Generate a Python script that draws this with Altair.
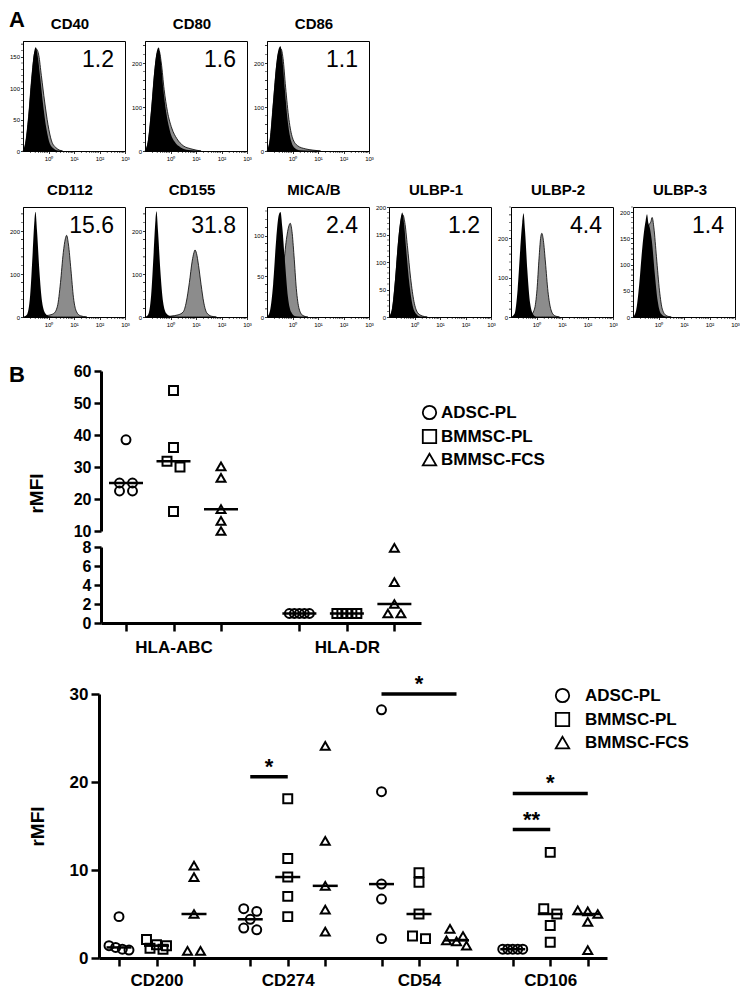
import altair as alt
import pandas as pd

FONT = "Liberation Sans"

# ---------------- Panel A data (flow cytometry histograms) ----------------
ROW1 = ["CD40", "CD80", "CD86"]
ROW2 = ["CD112", "CD155", "MICA/B", "ULBP-1", "ULBP-2", "ULBP-3"]
RMFI_TEXT = {"CD40": "1.2", "CD80": "1.6", "CD86": "1.1", "CD112": "15.6", "CD155": "31.8",
             "MICA/B": "2.4", "ULBP-1": "1.2", "ULBP-2": "4.4", "ULBP-3": "1.4"}
Y_MAX = {"CD40": 175, "CD80": 250, "CD86": 250, "CD112": 256, "CD155": 256,
         "MICA/B": 135, "ULBP-1": 200, "ULBP-2": 280, "ULBP-3": 210}
Y_TICKS = {"CD40": [0, 50, 100, 150], "CD80": [0, 100, 200], "CD86": [0, 100, 200],
           "CD112": [0, 100, 200], "CD155": [0, 100, 200], "MICA/B": [0, 50, 100],
           "ULBP-1": [0, 50, 100, 150, 200], "ULBP-2": [0, 100, 200],
           "ULBP-3": [0, 50, 100, 150, 200]}
X_TICKS = [1, 10, 100, 1000]

# isotype control (black) curves: log10 fluorescence, counts
ISO = {
    "CD40": ([-1.0, -0.9, -0.78, -0.66, -0.55, -0.5, -0.42, -0.32, -0.2, -0.08, 0.05, 0.2, 0.4],
             [0, 15, 60, 120, 160, 165, 150, 115, 70, 35, 12, 4, 0]),
    "CD80": ([-1.0, -0.88, -0.75, -0.62, -0.52, -0.46, -0.38, -0.28, -0.16, -0.02, 0.15, 0.4, 0.7, 1.0],
             [0, 25, 100, 190, 230, 235, 205, 140, 85, 45, 22, 8, 2, 0]),
    "CD86": ([-1.0, -0.88, -0.75, -0.62, -0.52, -0.47, -0.4, -0.3, -0.18, -0.05, 0.1, 0.3, 0.6],
             [0, 30, 120, 205, 235, 238, 210, 140, 65, 22, 6, 1, 0]),
    "CD112": ([-1.0, -0.85, -0.72, -0.62, -0.55, -0.51, -0.45, -0.36, -0.25, -0.12, 0.0, 0.2],
              [0, 5, 50, 150, 225, 245, 200, 110, 35, 8, 2, 0]),
    "CD155": ([-1.0, -0.88, -0.76, -0.66, -0.59, -0.55, -0.49, -0.4, -0.29, -0.16, -0.02, 0.2],
              [0, 5, 50, 150, 225, 246, 200, 110, 35, 8, 2, 0]),
    "MICA/B": ([-1.0, -0.88, -0.76, -0.64, -0.54, -0.47, -0.4, -0.3, -0.18, -0.05, 0.1, 0.3],
               [0, 8, 40, 95, 125, 129, 110, 70, 25, 6, 1, 0]),
    "ULBP-1": ([-1.0, -0.88, -0.76, -0.64, -0.54, -0.48, -0.41, -0.32, -0.2, -0.07, 0.08, 0.25],
               [0, 15, 70, 140, 180, 190, 170, 120, 60, 20, 5, 0]),
    "ULBP-2": ([-1.0, -0.86, -0.74, -0.64, -0.56, -0.51, -0.45, -0.36, -0.25, -0.12, 0.0],
               [0, 8, 70, 170, 240, 264, 220, 120, 35, 6, 0]),
    "ULBP-3": ([-1.0, -0.88, -0.76, -0.64, -0.55, -0.5, -0.45, -0.4, -0.34, -0.26, -0.15, -0.03, 0.1, 0.3],
               [0, 12, 60, 130, 170, 185, 196, 180, 170, 145, 85, 30, 6, 0]),
}
# stained (grey) curves
STAIN = {
    "CD40": ([-1.0, -0.9, -0.78, -0.66, -0.55, -0.47, -0.38, -0.28, -0.15, -0.02, 0.12, 0.3, 0.55],
             [0, 12, 55, 115, 155, 162, 152, 120, 78, 42, 16, 5, 0]),
    "CD80": ([-1.0, -0.88, -0.75, -0.62, -0.52, -0.45, -0.36, -0.25, -0.12, 0.05, 0.25, 0.5, 0.8, 1.2],
             [0, 20, 90, 180, 222, 228, 200, 140, 90, 52, 28, 12, 5, 0]),
    "CD86": ([-1.0, -0.88, -0.75, -0.62, -0.52, -0.45, -0.37, -0.27, -0.14, 0.0, 0.2, 0.5, 0.8, 1.1],
             [0, 25, 110, 195, 228, 232, 210, 145, 72, 30, 12, 5, 2, 0]),
    "CD112": ([-0.6, -0.3, 0.0, 0.2, 0.35, 0.47, 0.58, 0.66, 0.71, 0.78, 0.88, 0.98, 1.1, 1.25, 1.5],
              [0, 2, 4, 8, 25, 80, 150, 182, 190, 170, 110, 45, 12, 3, 0]),
    "CD155": ([-0.4, 0.0, 0.3, 0.5, 0.62, 0.74, 0.85, 0.92, 0.96, 1.02, 1.1, 1.2, 1.3, 1.42, 1.6, 1.8],
              [0, 2, 5, 12, 35, 80, 130, 150, 156, 148, 120, 75, 35, 10, 2, 0]),
    "MICA/B": ([-0.9, -0.7, -0.5, -0.36, -0.24, -0.14, -0.09, -0.02, 0.06, 0.15, 0.26, 0.4, 0.6],
               [0, 5, 25, 60, 95, 112, 115, 105, 75, 35, 10, 2, 0]),
    "ULBP-1": ([-1.0, -0.88, -0.76, -0.64, -0.53, -0.46, -0.38, -0.28, -0.15, -0.02, 0.12, 0.3, 0.5],
               [0, 12, 60, 130, 175, 186, 172, 130, 70, 28, 8, 2, 0]),
    "ULBP-2": ([-0.5, -0.25, -0.08, 0.02, 0.1, 0.16, 0.21, 0.27, 0.35, 0.45, 0.57, 0.7, 0.9],
               [0, 3, 20, 70, 150, 200, 213, 195, 140, 65, 18, 4, 0]),
    "ULBP-3": ([-0.95, -0.82, -0.7, -0.58, -0.48, -0.38, -0.3, -0.25, -0.18, -0.08, 0.04, 0.15, 0.3, 0.5],
               [0, 12, 55, 115, 155, 175, 182, 190, 170, 115, 50, 15, 3, 0]),
}

# ---------------- Panel B data ----------------
SERIES = ["ADSC-PL", "BMMSC-PL", "BMMSC-FCS"]
HLA_CATS = ["HLA-ABC", "HLA-DR"]
HLA_ABC = [[38.5, 25.0, 25.0, 22.5, 22.5], [53.9, 36.1, 31.8, 30.0, 16.1], [30.2, 26.6, 16.8, 13.2, 10.0]]
HLA_DR = [[1.0, 1.0, 1.0, 1.0, 1.0], [1.0, 1.0, 1.0, 1.0, 1.0], [7.9, 4.3, 2.0, 1.0, 1.0]]

CD_CATS = ["CD200", "CD274", "CD54", "CD106"]
CD200 = [[4.7, 1.4, 1.2, 1.0, 0.9], [2.1, 1.5, 1.4, 1.1, 1.0], [10.5, 9.2, 5.0, 0.8, 0.8]]
CD274 = [[5.6, 5.3, 4.4, 3.4, 3.2], [18.1, 11.3, 9.2, 7.0, 4.7], [24.1, 13.3, 8.2, 5.5, 3.0]]
CD54 = [[28.2, 18.9, 8.4, 6.7, 2.2], [9.7, 8.6, 5.0, 2.5, 2.2], [3.3, 2.5, 2.0, 1.9, 1.4]]
CD106 = [[1.0, 1.0, 1.0, 1.0, 1.0], [12.0, 5.6, 5.0, 3.7, 1.8], [5.4, 5.3, 5.0, 4.1, 0.9]]

# significance: category, from series, to series, bar height (rMFI), label
SIG_CAT = ["CD274", "CD54", "CD106", "CD106"]
SIG_FROM = [0, 0, 0, 0]
SIG_TO = [1, 2, 2, 1]
SIG_Y = [20.6, 30.0, 18.7, 14.6]
SIG_TEXT = ["*", "*", "*", "**"]

# ---------------- layout ----------------
HW, HH, HSP = 102, 110, 20
TOP_W, TOP_RANGE = 398, [78, 398]
TOP_G, TOP_PX = 3.65, 47.5
SEG1_H, SEG2_H = 160, 76
BOT_W, BOT_RANGE = 584, [76, 584]
BOT_PAD, BOT_PLOT = 55, 264
BOT_G, BOT_PX = 3.5, 37.5


def hist_chart(m, first=False):
    lx, ly = ISO[m]
    sx, sy = STAIN[m]
    iso = pd.DataFrame({"fl": [10 ** v for v in lx], "count": ly})
    st = pd.DataFrame({"fl": [10 ** v for v in sx], "count": sy})
    x = alt.X("fl:Q", scale=alt.Scale(type="log", domain=[0.1, 1000], nice=False),
              axis=alt.Axis(values=X_TICKS, title=None, grid=False, labelFontSize=6,
                            labelExpr="datum.value == 1 ? '10⁰' : datum.value == 10 ? '10¹' : datum.value == 100 ? '10²' : '10³'",
                            tickSize=2.5, tickWidth=0.8, domainWidth=1, labelPadding=2,
                            labelOverlap=False, labelFlush=False))
    y = alt.Y("count:Q", scale=alt.Scale(domain=[0, Y_MAX[m]], nice=False),
              axis=alt.Axis(values=Y_TICKS[m], title=None, grid=False, labelFontSize=6,
                            tickSize=2.5, tickWidth=0.8, domainWidth=1, labelPadding=1,
                            labelOverlap=False))
    grey = alt.Chart(st).mark_area(color="#8c8c8c", stroke="black", strokeWidth=0.8,
                                   interpolate="monotone", opacity=1).encode(x=x, y=y)
    black = alt.Chart(iso).mark_area(color="black", interpolate="monotone", opacity=1).encode(x=x, y=y)
    # minor axis ticks (decoration of the log axis and count axis)
    minor_x = pd.DataFrame({"fl": [k * 10 ** d for d in range(-1, 3) for k in range(2, 10)]})
    mx = alt.Chart(minor_x).mark_tick(orient="vertical", size=2, thickness=0.6, color="black",
                                      opacity=1).encode(x=x, y=alt.value(HH + 1))
    step = (Y_TICKS[m][1] - Y_TICKS[m][0]) / 5
    minor_y = pd.DataFrame({"count": [v * step for v in range(int(Y_MAX[m] / step) + 1)
                                      if (v % 5) != 0]})
    my = alt.Chart(minor_y).mark_tick(orient="horizontal", size=2, thickness=0.6, color="black",
                                      opacity=1).encode(y=y, x=alt.value(-1))
    num = alt.Chart(pd.DataFrame({"t": [RMFI_TEXT[m]]})).mark_text(
        align="right", baseline="middle", fontSize=23, font=FONT, color="black").encode(
        x=alt.value(HW - 11), y=alt.value(19), text="t:N")
    ttl = alt.Chart(pd.DataFrame({"t": [m]})).mark_text(
        align="center", baseline="middle", fontSize=15, fontWeight="bold", font=FONT, color="black").encode(
        x=alt.value(HW / 2 - 4), y=alt.value(-17.5), text="t:N")
    layers = [grey, black, mx, my, num, ttl]
    if first:
        layers.append(alt.Chart(pd.DataFrame({"t": ["A"]})).mark_text(
            align="left", baseline="middle", fontSize=22, fontWeight="bold", font=FONT, color="black").encode(
            x=alt.value(-14), y=alt.value(-21), text="t:N"))
    return alt.layer(*layers).properties(width=HW, height=HH,
                                         view=alt.ViewBackground(stroke="black", strokeWidth=1))


def row_offsets(vals, px_y, thresh=8.0, max_step=13.0, span=20.0):
    order = sorted(range(len(vals)), key=lambda i: -vals[i])
    rows = []
    for i in order:
        if rows and abs(vals[rows[-1][0]] - vals[i]) * px_y < thresh:
            rows[-1].append(i)
        else:
            rows.append([i])
    off = [0.0] * len(vals)
    for r in rows:
        n = len(r)
        if n > 1:
            stp = min(max_step, span / (n - 1))
            for k, i in enumerate(r):
                off[i] = (k - (n - 1) / 2) * stp
    return off


def build(cats, groups, G, px_x, px_y_list):
    pts, meds = [], []
    for g, (cat, grp) in enumerate(zip(cats, groups)):
        for s, vals in enumerate(grp):
            off = row_offsets(vals, px_y_list[g])
            for v, o in zip(vals, off):
                pts.append({"cat": cat, "series": SERIES[s], "value": v, "pos": g * G + s + o / px_x})
            sv = sorted(vals)
            meds.append({"cat": cat, "series": SERIES[s], "value": sv[len(sv) // 2], "pos": g * G + s})
    return pd.DataFrame(pts), pd.DataFrame(meds)


def label_expr(cats, G):
    parts = [f"abs(datum.value - {g * G + 1:.4f}) < 0.01 ? '{c}'" for g, c in enumerate(cats)]
    return " : ".join(parts) + " : ''"


shape_scale = alt.Scale(domain=SERIES, range=["circle", "square", "triangle-up"])


def legend(lx, ly, off):
    return alt.Legend(orient="none", legendX=lx, legendY=ly, title=None, labelFontSize=17,
                      labelFontWeight="bold", labelFont=FONT, labelColor="black",
                      symbolSize=180, symbolStrokeWidth=1.8, symbolStrokeColor="black",
                      rowPadding=3, labelOffset=off)


BAXIS = dict(grid=False, domainWidth=3, tickWidth=2.5, labelFontWeight="bold", labelFont=FONT,
             labelColor="black", domainColor="black", tickColor="black")

# --- HLA panel (broken axis) ---
hla_pts, hla_meds = build(HLA_CATS, [HLA_ABC, HLA_DR], TOP_G, TOP_PX, [SEG1_H / 50, SEG2_H / 8])
xs_top = alt.Scale(domain=[-25 / TOP_PX, (412 - 117) / TOP_PX], range=TOP_RANGE, nice=False, zero=False)
top_ticks = [g * TOP_G + s for g in range(len(HLA_CATS)) for s in range(3)]

y_seg1 = alt.Y("value:Q", scale=alt.Scale(domain=[10, 60], nice=False, zero=False),
               axis=alt.Axis(values=[10, 20, 30, 40, 50, 60], offset=-TOP_RANGE[0], tickSize=7,
                             labelFontSize=16, labelPadding=3, title="rMFI", titleFontSize=19,
                             titleFontWeight="bold", titleFont=FONT, titleX=-55, titleY=122,
                             titleAngle=270, titleAlign="center", titleBaseline="bottom", **BAXIS))
x_seg1 = alt.X("pos:Q", scale=xs_top, axis=None)

seg1_pts = alt.Chart(hla_pts[hla_pts.value >= 10]).mark_point(
    filled=False, color="black", strokeWidth=2, size=80, opacity=1).encode(
    x=x_seg1, y=y_seg1, shape=alt.Shape("series:N", scale=shape_scale, legend=legend(398, 33, 3)))
seg1_med = alt.Chart(hla_meds[hla_meds.value >= 10]).mark_tick(
    orient="horizontal", size=34, thickness=2.5, color="black", opacity=1).encode(x=x_seg1, y=y_seg1)
b_lab = alt.Chart(pd.DataFrame({"t": ["B"]})).mark_text(
    align="left", baseline="middle", fontSize=22, fontWeight="bold", font=FONT, color="black").encode(
    x=alt.value(-14), y=alt.value(4), text="t:N")
seg1 = alt.layer(seg1_pts, seg1_med, b_lab).properties(width=TOP_W, height=SEG1_H)

x_seg2 = alt.X("pos:Q", scale=xs_top,
               axis=alt.Axis(values=top_ticks, labelExpr=label_expr(HLA_CATS, TOP_G), title=None,
                             tickSize=8, labelFontSize=17, labelPadding=8, labelOverlap=False,
                             labelFlush=False, **BAXIS))
y_seg2 = alt.Y("value:Q", scale=alt.Scale(domain=[0, 8], nice=False),
               axis=alt.Axis(values=[0, 2, 4, 6, 8], offset=-TOP_RANGE[0], tickSize=7,
                             labelFontSize=16, labelPadding=3, title=None, **BAXIS))
seg2_pts = alt.Chart(hla_pts[hla_pts.value < 10]).mark_point(
    filled=False, color="black", strokeWidth=2, size=80, opacity=1).encode(
    x=x_seg2, y=y_seg2, shape=alt.Shape("series:N", scale=shape_scale, legend=None))
seg2_med = alt.Chart(hla_meds[hla_meds.value < 10]).mark_tick(
    orient="horizontal", size=34, thickness=2.5, color="black", opacity=1).encode(x=x_seg2, y=y_seg2)
seg2 = alt.layer(seg2_pts, seg2_med).properties(width=TOP_W, height=SEG2_H)

# --- CD panel ---
BOT_H = BOT_PAD + BOT_PLOT
cd_pts, cd_meds = build(CD_CATS, [CD200, CD274, CD54, CD106], BOT_G, BOT_PX, [BOT_PLOT / 30] * 4)
bot_ticks = [g * BOT_G + s for g in range(len(CD_CATS)) for s in range(3)]
xs_bot = alt.Scale(domain=[-20 / BOT_PX, (598 - 110) / BOT_PX], range=BOT_RANGE, nice=False, zero=False)
ys_bot = alt.Scale(domain=[0, 30], nice=False, range=[BOT_H, BOT_PAD])
x_bot = alt.X("pos:Q", scale=xs_bot,
              axis=alt.Axis(values=bot_ticks, labelExpr=label_expr(CD_CATS, BOT_G), title=None,
                            tickSize=8, labelFontSize=17, labelPadding=6, labelOverlap=False,
                            labelFlush=False, **BAXIS))
y_bot = alt.Y("value:Q", scale=ys_bot,
              axis=alt.Axis(values=[0, 10, 20, 30], offset=-BOT_RANGE[0], tickSize=8,
                            labelFontSize=17, labelPadding=3, title="rMFI", titleFontSize=19,
                            titleFontWeight="bold", titleFont=FONT, titleX=-52,
                            titleY=BOT_PAD + BOT_PLOT / 2,
                            titleAngle=270, titleAlign="center", titleBaseline="bottom", **BAXIS))
sig = pd.DataFrame({
    "a": [CD_CATS.index(c) * BOT_G + f for c, f in zip(SIG_CAT, SIG_FROM)],
    "b": [CD_CATS.index(c) * BOT_G + t for c, t in zip(SIG_CAT, SIG_TO)],
    "value": SIG_Y, "t": SIG_TEXT})
sig["mid"] = (sig.a + sig.b) / 2
bot_pts = alt.Chart(cd_pts).mark_point(
    filled=False, color="black", strokeWidth=2, size=80, opacity=1).encode(
    x=x_bot, y=y_bot, shape=alt.Shape("series:N", scale=shape_scale,
                                      legend=legend(531, BOT_PAD - 7, 14)))
bot_med = alt.Chart(cd_meds).mark_tick(
    orient="horizontal", size=25, thickness=2.5, color="black", opacity=1).encode(x=x_bot, y=y_bot)
bot_bar = alt.Chart(sig).mark_rule(strokeWidth=3.5, color="black").encode(
    x=alt.X("a:Q", scale=xs_bot), x2="b:Q", y=alt.Y("value:Q", scale=ys_bot))
bot_star = alt.Chart(sig).mark_text(fontSize=22, fontWeight="bold", font=FONT, color="black",
                                    baseline="alphabetic", dy=-3).encode(
    x=alt.X("mid:Q", scale=xs_bot), y=alt.Y("value:Q", scale=ys_bot), text="t:N")
bot = alt.layer(bot_pts, bot_med, bot_bar, bot_star).properties(width=BOT_W, height=BOT_H)

row1 = alt.hconcat(*[hist_chart(m, i == 0) for i, m in enumerate(ROW1)], spacing=HSP, bounds="flush")
row2 = alt.hconcat(*[hist_chart(m) for m in ROW2], spacing=HSP, bounds="flush")
panel_a = alt.vconcat(row1, row2, spacing=20)
panel_b = alt.vconcat(seg1, seg2, bot, spacing=16, bounds="flush").resolve_scale(
    shape="independent").resolve_legend(shape="independent")

chart = alt.vconcat(panel_a, panel_b, spacing=34).resolve_scale(
    shape="independent").resolve_legend(shape="independent").properties(padding=0).configure_view(
    stroke="transparent").configure_axis(labelFont=FONT, titleFont=FONT, labelColor="black",
                                         domainColor="black", tickColor="black").configure_text(font=FONT)

chart.save("out.html", embed_options={"renderer": "svg", "actions": False})
